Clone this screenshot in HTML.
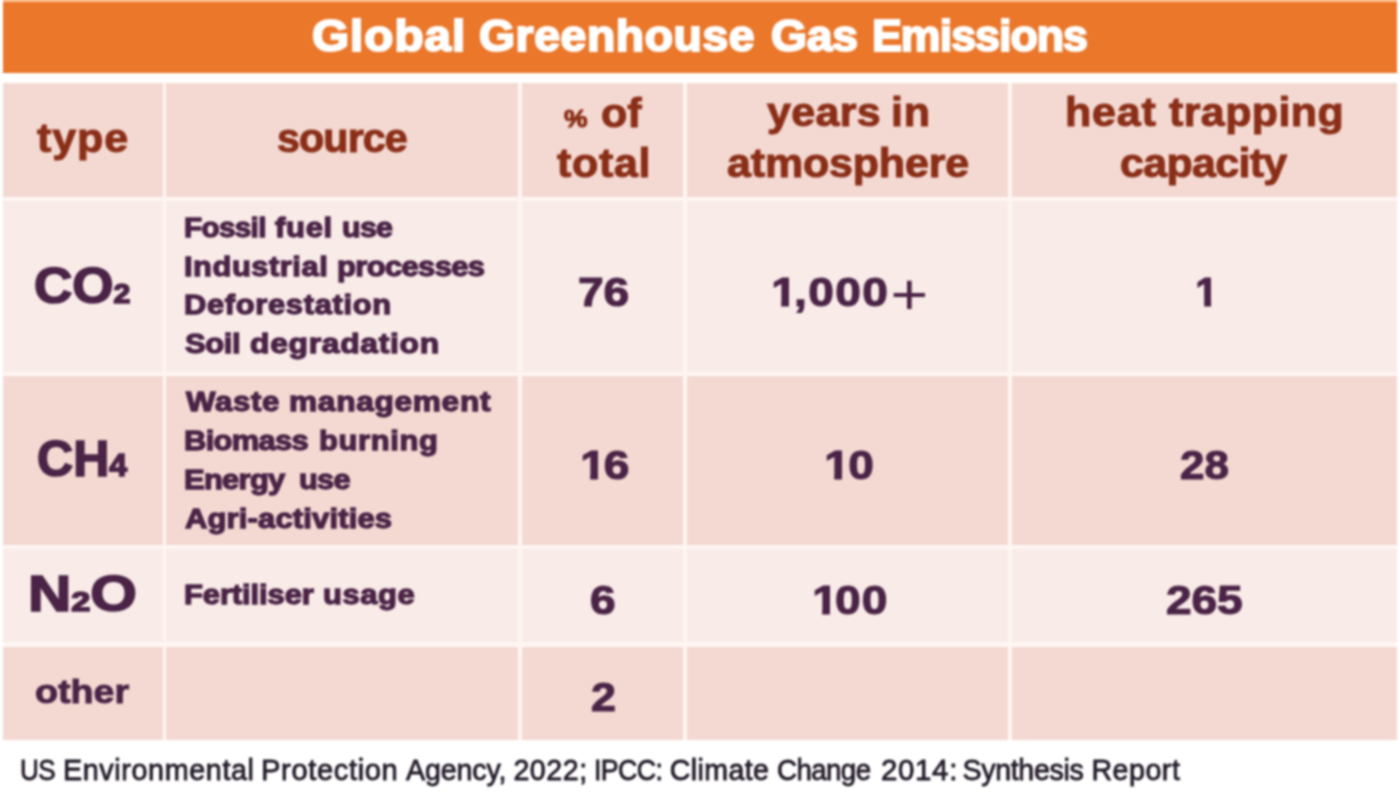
<!DOCTYPE html>
<html lang="en">
<head>
<meta charset="utf-8">
<title>Global Greenhouse Gas Emissions</title>
<style>
html,body{margin:0;padding:0;background:#fff;}
body{width:1400px;height:800px;position:relative;overflow:hidden;font-family:"Liberation Sans",Arial,Helvetica,sans-serif;}
#w{position:absolute;left:0;top:0;width:1400px;height:800px;filter:blur(1.0px);}
.c{position:absolute;}
.l{position:absolute;left:0;top:0;margin:0;padding:0;white-space:nowrap;line-height:1;font-weight:bold;}
.l>span{position:absolute;display:block;white-space:nowrap;line-height:1;transform-origin:0 0;}
.one{display:inline-block;clip-path:polygon(-0.1em -0.3em,0.45em -0.3em,0.45em 0.68em,0.386em 0.68em,0.386em 1.3em,0.218em 1.3em,0.218em 0.68em,-0.1em 0.68em);margin-left:-0.04em;margin-right:-0.09em;}
.plus{font-weight:normal;-webkit-text-stroke:0;font-size:1.4em;line-height:0;position:relative;top:0.15em;margin-left:0.02em;}
.sub2{font-size:0.57em;}
.sub4{font-size:0.64em;}
.pct{font-size:0.6em;}
.title{font-size:44.5px;color:#fff;-webkit-text-stroke:2.0px #fff;}
.head{font-size:39.8px;color:#8A2E17;-webkit-text-stroke:1.0px #8A2E17;}
.gas{font-size:49.5px;color:#4A2346;-webkit-text-stroke:1.7px #4A2346;}
.other{font-size:34px;color:#4A2346;-webkit-text-stroke:1.0px #4A2346;}
.src{font-size:27.6px;color:#4A2346;-webkit-text-stroke:1.3px #4A2346;}
.num{font-size:40.8px;color:#4A2346;-webkit-text-stroke:1.1px #4A2346;}
.foot{font-size:28.6px;color:#221A28;font-weight:normal;-webkit-text-stroke:0.8px #221A28;}

</style>
</head>
<body>
<div id="w">
<div class="c" id="topstrip" style="left:2.5px;top:-2px;width:1394.5px;height:5px;background:#FFC294"></div>
<div class="c" id="titlebar" style="left:2.5px;top:2.4px;width:1394.5px;height:70.9px;background:#EA772A"></div>
<div class="c" id="gridbg" style="left:2.5px;top:82.5px;width:1394.5px;height:657px;background:#FEF6F3"></div>
<div class="c" style="left:2.5px;top:82.5px;width:160.0px;height:114.7px;background:#F4D9D2"></div>
<div class="c" style="left:166.4px;top:82.5px;width:351.9px;height:114.7px;background:#F4D9D2"></div>
<div class="c" style="left:522.2px;top:82.5px;width:161.1px;height:114.7px;background:#F4D9D2"></div>
<div class="c" style="left:687.2px;top:82.5px;width:320.5px;height:114.7px;background:#F4D9D2"></div>
<div class="c" style="left:1011.6px;top:82.5px;width:385.4px;height:114.7px;background:#F4D9D2"></div>
<div class="c" style="left:2.5px;top:201.3px;width:160.0px;height:171.0px;background:#F9EBE8"></div>
<div class="c" style="left:166.4px;top:201.3px;width:351.9px;height:171.0px;background:#F9EBE8"></div>
<div class="c" style="left:522.2px;top:201.3px;width:161.1px;height:171.0px;background:#F9EBE8"></div>
<div class="c" style="left:687.2px;top:201.3px;width:320.5px;height:171.0px;background:#F9EBE8"></div>
<div class="c" style="left:1011.6px;top:201.3px;width:385.4px;height:171.0px;background:#F9EBE8"></div>
<div class="c" style="left:2.5px;top:376.4px;width:160.0px;height:168.9px;background:#F4D9D2"></div>
<div class="c" style="left:166.4px;top:376.4px;width:351.9px;height:168.9px;background:#F4D9D2"></div>
<div class="c" style="left:522.2px;top:376.4px;width:161.1px;height:168.9px;background:#F4D9D2"></div>
<div class="c" style="left:687.2px;top:376.4px;width:320.5px;height:168.9px;background:#F4D9D2"></div>
<div class="c" style="left:1011.6px;top:376.4px;width:385.4px;height:168.9px;background:#F4D9D2"></div>
<div class="c" style="left:2.5px;top:549.4px;width:160.0px;height:93.0px;background:#F9EBE8"></div>
<div class="c" style="left:166.4px;top:549.4px;width:351.9px;height:93.0px;background:#F9EBE8"></div>
<div class="c" style="left:522.2px;top:549.4px;width:161.1px;height:93.0px;background:#F9EBE8"></div>
<div class="c" style="left:687.2px;top:549.4px;width:320.5px;height:93.0px;background:#F9EBE8"></div>
<div class="c" style="left:1011.6px;top:549.4px;width:385.4px;height:93.0px;background:#F9EBE8"></div>
<div class="c" style="left:2.5px;top:646.5px;width:160.0px;height:93.1px;background:#F4D9D2"></div>
<div class="c" style="left:166.4px;top:646.5px;width:351.9px;height:93.1px;background:#F4D9D2"></div>
<div class="c" style="left:522.2px;top:646.5px;width:161.1px;height:93.1px;background:#F4D9D2"></div>
<div class="c" style="left:687.2px;top:646.5px;width:320.5px;height:93.1px;background:#F4D9D2"></div>
<div class="c" style="left:1011.6px;top:646.5px;width:385.4px;height:93.1px;background:#F4D9D2"></div>
<div class="l title" id="title"><span style="left:312.16px;top:14.31px;letter-spacing:0.98px;transform:scaleX(1.0694);">Global</span> <span style="left:479.41px;top:14.31px;letter-spacing:0.57px;transform:scaleX(1.0406);">Greenhouse</span> <span style="left:771.16px;top:14.31px;letter-spacing:-0.28px;transform:scaleX(1.0400);">Gas</span> <span style="left:872.00px;top:14.31px;letter-spacing:-0.98px;transform:scaleX(1.0058);">Emissions</span></div>
<div class="l head" id="h_type"><span style="left:37.01px;top:118.81px;letter-spacing:0.79px;transform:scaleX(1.0817);">type</span></div>
<div class="l head" id="h_source"><span style="left:276.72px;top:118.81px;letter-spacing:-0.88px;transform:scaleX(1.0373);">source</span></div>
<div class="l head" id="h_pct1"><span style="left:564.18px;top:93.51px;transform:scaleX(1.1070);"><span class="pct">%</span></span> <span style="left:601.21px;top:93.51px;letter-spacing:0.03px;transform:scaleX(1.0800);">of</span></div>
<div class="l head" id="h_pct2"><span style="left:556.66px;top:143.91px;letter-spacing:0.63px;transform:scaleX(1.0800);">total</span></div>
<div class="l head" id="h_yr1"><span style="left:766.84px;top:92.91px;letter-spacing:0.26px;transform:scaleX(1.0825);">years</span> <span style="left:891.06px;top:92.91px;letter-spacing:0.64px;transform:scaleX(1.0807);">in</span></div>
<div class="l head" id="h_yr2"><span style="left:726.84px;top:143.60px;letter-spacing:-0.15px;transform:scaleX(1.0800);">atmosphere</span></div>
<div class="l head" id="h_ht1"><span style="left:1064.77px;top:92.91px;letter-spacing:0.79px;transform:scaleX(1.0800);">heat</span> <span style="left:1168.51px;top:92.91px;letter-spacing:0.40px;transform:scaleX(1.0789);">trapping</span></div>
<div class="l head" id="h_ht2"><span style="left:1120.45px;top:143.60px;letter-spacing:-0.65px;transform:scaleX(1.0810);">capacity</span></div>
<div class="l gas" id="t_co2"><span style="left:34.12px;top:261.16px;transform:scaleX(1.0710);">CO<span class="sub2">2</span></span></div>
<div class="l gas" id="t_ch4"><span style="left:36.76px;top:434.15px;transform:scaleX(1.0110);">CH<span class="sub4">4</span></span></div>
<div class="l gas" id="t_n2o"><span style="left:27.79px;top:569.16px;transform:scaleX(1.2116);">N<span class="sub2">2</span>O</span></div>
<div class="l other" id="t_other"><span style="left:35.39px;top:673.81px;transform:scaleX(1.1075);">other</span></div>
<div class="l src" id="s11"><span style="left:184.15px;top:213.85px;letter-spacing:-0.61px;transform:scaleX(1.0740);">Fossil</span> <span style="left:275.34px;top:213.86px;letter-spacing:0.61px;transform:scaleX(1.1241);">fuel</span> <span style="left:341.65px;top:213.85px;letter-spacing:-0.61px;transform:scaleX(1.1009);">use</span></div>
<div class="l src" id="s12"><span style="left:184.04px;top:252.56px;letter-spacing:0.47px;transform:scaleX(1.1196);">Industrial</span> <span style="left:336.76px;top:252.56px;letter-spacing:-0.54px;transform:scaleX(1.1198);">processes</span></div>
<div class="l src" id="s13"><span style="left:184.10px;top:291.35px;letter-spacing:0.60px;transform:scaleX(1.1193);">Deforestation</span></div>
<div class="l src" id="s14"><span style="left:185.17px;top:330.06px;letter-spacing:-0.36px;transform:scaleX(1.1225);">Soil</span> <span style="left:249.69px;top:330.06px;letter-spacing:0.61px;transform:scaleX(1.1530);">degradation</span></div>
<div class="l src" id="s21"><span style="left:185.52px;top:388.25px;letter-spacing:0.61px;transform:scaleX(1.1299);">Waste</span> <span style="left:289.31px;top:388.25px;letter-spacing:0.61px;transform:scaleX(1.1466);">management</span></div>
<div class="l src" id="s22"><span style="left:184.15px;top:427.06px;letter-spacing:-0.61px;transform:scaleX(1.1200);">Biomass</span> <span style="left:319.11px;top:427.06px;letter-spacing:0.59px;transform:scaleX(1.1186);">burning</span></div>
<div class="l src" id="s23"><span style="left:183.90px;top:465.75px;letter-spacing:-0.61px;transform:scaleX(1.1192);">Energy</span> <span style="left:299.16px;top:465.75px;letter-spacing:-0.61px;transform:scaleX(1.1123);">use</span></div>
<div class="l src" id="s24"><span style="left:184.64px;top:504.56px;letter-spacing:0.15px;transform:scaleX(1.1216);">Agri-activities</span></div>
<div class="l src" id="s31"><span style="left:184.10px;top:581.25px;letter-spacing:-0.06px;transform:scaleX(1.1189);">Fertiliser</span> <span style="left:322.94px;top:581.25px;letter-spacing:0.53px;transform:scaleX(1.1200);">usage</span></div>
<div class="l num" id="n13"><span style="left:578.18px;top:271.76px;letter-spacing:-0.18px;transform:scaleX(1.1300);">76</span></div>
<div class="l num" id="n14"><span style="left:773.14px;top:271.76px;letter-spacing:1.21px;transform:scaleX(1.1300);"><span class="one">1</span>,000<span class="plus">+</span></span></div>
<div class="l num" id="n15"><span style="left:1196.96px;top:271.76px;"><span class="one">1</span></span></div>
<div class="l num" id="n23"><span style="left:581.73px;top:444.86px;letter-spacing:1.93px;transform:scaleX(1.1300);"><span class="one">1</span>6</span></div>
<div class="l num" id="n24"><span style="left:825.66px;top:444.85px;letter-spacing:2.23px;transform:scaleX(1.1300);"><span class="one">1</span>0</span></div>
<div class="l num" id="n25"><span style="left:1179.78px;top:444.85px;transform:scaleX(1.0776);">28</span></div>
<div class="l num" id="n33"><span style="left:590.33px;top:580.26px;transform:scaleX(1.1300);">6</span></div>
<div class="l num" id="n34"><span style="left:813.66px;top:580.26px;letter-spacing:1.08px;transform:scaleX(1.1300);"><span class="one">1</span>00</span></div>
<div class="l num" id="n35"><span style="left:1166.13px;top:580.26px;letter-spacing:-0.08px;transform:scaleX(1.1300);">265</span></div>
<div class="l num" id="n43"><span style="left:591.33px;top:676.96px;transform:scaleX(1.1000);">2</span></div>
<div class="l foot" id="foot"><span style="left:20.02px;top:755.60px;letter-spacing:-0.63px;transform:scaleX(0.9112);">US</span> <span style="left:62.76px;top:755.60px;letter-spacing:0.63px;transform:scaleX(1.0034);">Environmental</span> <span style="left:261.25px;top:755.60px;letter-spacing:0.63px;transform:scaleX(1.0178);">Protection</span> <span style="left:405.64px;top:755.60px;letter-spacing:-0.11px;transform:scaleX(0.9999);">Agency,</span> <span style="left:513.39px;top:755.60px;letter-spacing:0.54px;">2022;</span> <span style="left:593.95px;top:755.61px;letter-spacing:-0.63px;transform:scaleX(0.9356);">IPCC:</span> <span style="left:669.70px;top:755.60px;letter-spacing:0.38px;">Climate</span> <span style="left:777.10px;top:755.61px;letter-spacing:-0.63px;transform:scaleX(0.9694);">Change</span> <span style="left:880.87px;top:755.61px;letter-spacing:0.63px;transform:scaleX(1.0307);">2014:</span> <span style="left:962.53px;top:755.60px;letter-spacing:-0.35px;">Synthesis</span> <span style="left:1091.42px;top:755.60px;letter-spacing:0.52px;">Report</span></div>
</div>
</body>
</html>
